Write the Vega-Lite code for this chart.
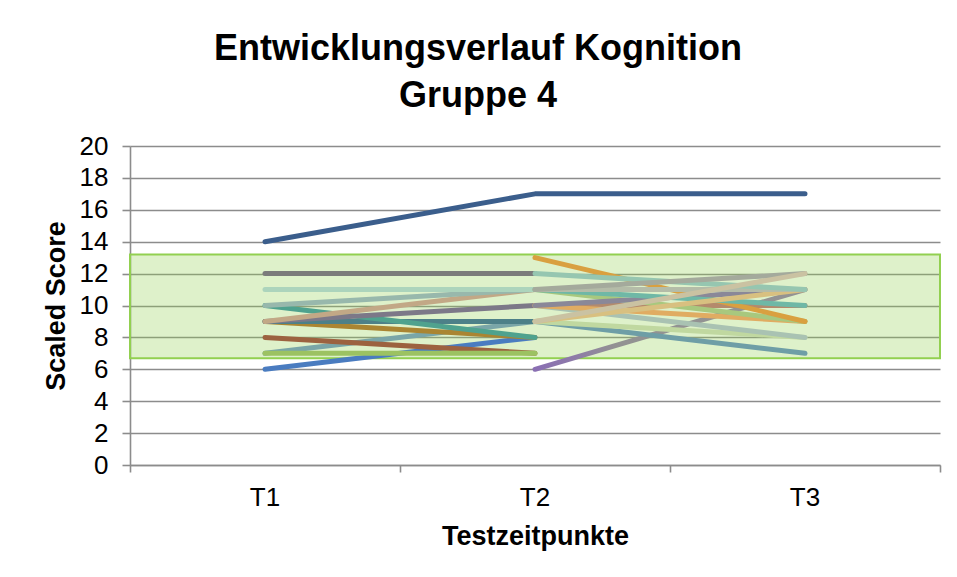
{
  "$schema": "https://vega.github.io/schema/vega-lite/v6.json",
  "width": 810,
  "height": 319,
  "autosize": "none",
  "padding": {"left": 130, "top": 146, "right": 17, "bottom": 112},
  "background": "white",
  "title": {
    "text": ["Entwicklungsverlauf Kognition", "Gruppe 4"],
    "fontSize": 36,
    "fontWeight": "bold",
    "font": "Liberation Sans",
    "color": "#000000",
    "anchor": "middle",
    "dx": -57,
    "offset": 18,
    "lineHeight": 47
  },
  "config": {
    "view": {"stroke": null},
    "font": "Liberation Sans",
    "axis": {"labelColor": "#000000", "titleColor": "#000000", "labelFont": "Liberation Sans", "titleFont": "Liberation Sans"}
  },
  "datasets": {
    "band": [{"v": 6.7, "v2": 13.2}],
    "scores": [
      {"s": "a13", "t": "T1", "v": 6}, {"s": "a13", "t": "T2", "v": 8},
      {"s": "a12", "t": "T1", "v": 7}, {"s": "a12", "t": "T2", "v": 9},
      {"s": "a10", "t": "T1", "v": 8}, {"s": "a10", "t": "T2", "v": 7},
      {"s": "a11", "t": "T1", "v": 7}, {"s": "a11", "t": "T2", "v": 7},
      {"s": "a9", "t": "T1", "v": 9}, {"s": "a9", "t": "T2", "v": 8},
      {"s": "a8", "t": "T1", "v": 9}, {"s": "a8", "t": "T2", "v": 9},
      {"s": "a5", "t": "T1", "v": 10}, {"s": "a5", "t": "T2", "v": 8},
      {"s": "a7", "t": "T1", "v": 9}, {"s": "a7", "t": "T2", "v": 10},
      {"s": "a6", "t": "T1", "v": 9}, {"s": "a6", "t": "T2", "v": 11},
      {"s": "a4", "t": "T1", "v": 10}, {"s": "a4", "t": "T2", "v": 11},
      {"s": "a3", "t": "T1", "v": 11}, {"s": "a3", "t": "T2", "v": 11},
      {"s": "a2", "t": "T1", "v": 12}, {"s": "a2", "t": "T2", "v": 12},
      {"s": "a1", "t": "T1", "v": 14}, {"s": "a1", "t": "T2", "v": 17}, {"s": "a1", "t": "T3", "v": 17},
      {"s": "b14", "t": "T2", "v": 9}, {"s": "b14", "t": "T3", "v": 7},
      {"s": "b13", "t": "T2", "v": 9}, {"s": "b13", "t": "T3", "v": 8},
      {"s": "b7", "t": "T2", "v": 10}, {"s": "b7", "t": "T3", "v": 8},
      {"s": "b10", "t": "T2", "v": 10}, {"s": "b10", "t": "T3", "v": 10},
      {"s": "b8", "t": "T2", "v": 10}, {"s": "b8", "t": "T3", "v": 9},
      {"s": "b6", "t": "T2", "v": 11}, {"s": "b6", "t": "T3", "v": 9},
      {"s": "b1", "t": "T2", "v": 13}, {"s": "b1", "t": "T3", "v": 9},
      {"s": "b9", "t": "T2", "v": 10}, {"s": "b9", "t": "T3", "v": 11},
      {"s": "b5", "t": "T2", "v": 11}, {"s": "b5", "t": "T3", "v": 10},
      {"s": "b12", "t": "T2", "v": 9}, {"s": "b12", "t": "T3", "v": 11},
      {"s": "b4", "t": "T2", "v": 11}, {"s": "b4", "t": "T3", "v": 11},
      {"s": "b2", "t": "T2", "v": 12}, {"s": "b2", "t": "T3", "v": 11},
      {"s": "b3", "t": "T2", "v": 11}, {"s": "b3", "t": "T3", "v": 12},
      {"s": "b11", "t": "T2", "v": 9}, {"s": "b11", "t": "T3", "v": 12},
      {"s": "b15", "t": "T2", "v": 6}, {"s": "b15", "t": "T3", "v": 11}
    ]
  },
  "encoding": {
    "y": {
      "field": "v",
      "type": "quantitative",
      "scale": {"domain": [0, 20], "nice": false},
      "title": "Scaled Score",
      "axis": {
        "values": [0, 2, 4, 6, 8, 10, 12, 14, 16, 18, 20],
        "grid": true,
        "gridColor": "#8c8c8c",
        "gridWidth": 1.6,
        "domainColor": "#8c8c8c",
        "domainWidth": 1.6,
        "tickColor": "#8c8c8c",
        "tickWidth": 1.6,
        "tickSize": 8,
        "labelFontSize": 26,
        "labelPadding": 14,
        "titleFontSize": 27,
        "titleFontWeight": "bold",
        "titlePadding": 9
      }
    }
  },
  "layer": [
    {
      "data": {"name": "band"},
      "mark": {"type": "rect", "fill": "#92d050", "fillOpacity": 0.3, "stroke": "#92d050", "strokeWidth": 2},
      "encoding": {"y2": {"field": "v2"}}
    },
    {
      "data": {"name": "scores"},
      "transform": [{"filter": "datum.s === 'b15'"}],
      "mark": {
        "type": "line",
        "strokeWidth": 5,
        "strokeCap": "round",
        "stroke": {"gradient": "linear", "x1": 0, "y1": 0, "x2": 1, "y2": 0, "stops": [{"offset": 0, "color": "#8a6fb3"}, {"offset": 0.12, "color": "#8d78ab"}, {"offset": 0.3, "color": "#929292"}, {"offset": 1, "color": "#939393"}]}
      },
      "encoding": {
        "x": {
          "field": "t",
          "type": "nominal",
          "bandPosition": 0.5,
          "scale": {"type": "band", "domain": ["T1", "T2", "T3"], "paddingInner": 0, "paddingOuter": 0},
          "title": "Testzeitpunkte",
          "axis": {
            "labelAngle": 0,
            "labelFontSize": 26,
            "labelPadding": 12,
            "domainColor": "#8c8c8c",
            "domainWidth": 1.6,
            "tickColor": "#8c8c8c",
            "tickWidth": 1.6,
            "tickSize": 7,
            "bandPosition": 1,
            "tickExtra": true,
            "grid": false,
            "titleFontSize": 27,
            "titleFontWeight": "bold",
            "titlePadding": 13
          }
        }
      }
    },
    {
      "data": {"name": "scores"},
      "transform": [{"filter": "datum.s !== 'b15'"}],
      "mark": {"type": "line", "strokeWidth": 5, "strokeCap": "round", "strokeJoin": "round"},
      "encoding": {
        "x": {
          "field": "t",
          "type": "nominal",
          "bandPosition": 0.5,
          "scale": {"type": "band", "domain": ["T1", "T2", "T3"], "paddingInner": 0, "paddingOuter": 0},
          "title": "Testzeitpunkte",
          "axis": {
            "labelAngle": 0,
            "labelFontSize": 26,
            "labelPadding": 12,
            "domainColor": "#8c8c8c",
            "domainWidth": 1.6,
            "tickColor": "#8c8c8c",
            "tickWidth": 1.6,
            "tickSize": 7,
            "bandPosition": 1,
            "tickExtra": true,
            "grid": false,
            "titleFontSize": 27,
            "titleFontWeight": "bold",
            "titlePadding": 13
          }
        },
        "color": {
          "field": "s",
          "type": "nominal",
          "legend": null,
          "scale": {
            "domain": ["a1","a2","a3","a4","a5","a6","a7","a8","a9","a10","a11","a12","a13","b1","b2","b3","b4","b5","b6","b7","b8","b9","b10","b11","b12","b13","b14","b15"],
            "range": ["#3b5e8c","#7b7b7b","#acd4bc","#98b8ac","#4fa28e","#c2a886","#7c7888","#4d8088","#aa8532","#9c6240","#9cc262","#7aa6a8","#4a7cc0","#d9a040","#96c6b0","#a4aa9c","#b4bca8","#6fb8a6","#a8c87e","#a9c2b2","#e0ac62","#8a8898","#b48a6c","#cac2a2","#d8c080","#c0d8a0","#6e9ea6","#929292"]
          }
        }
      }
    }
  ]
}
